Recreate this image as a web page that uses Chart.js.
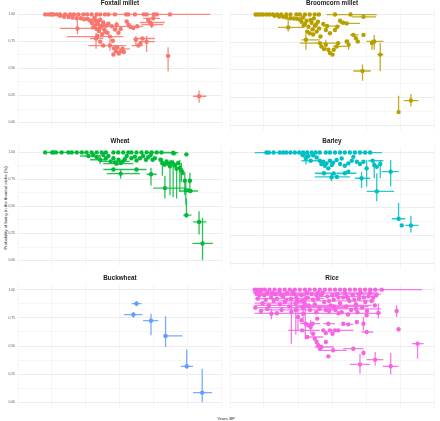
<!DOCTYPE html>
<html><head><meta charset="utf-8">
<script src="https://cdn.jsdelivr.net/npm/chart.js@4.4.1/dist/chart.umd.min.js"></script>
<style>
html,body{margin:0;padding:0;background:#fff;}
#wrap{position:relative;width:440px;height:421px;overflow:hidden;background:#fff;}
canvas{position:absolute;}
.lab{position:absolute;font-family:"Liberation Sans",Arial,sans-serif;font-size:8.6px;color:#222;white-space:nowrap;}
</style></head>
<body><div id="wrap">
<div class="lab" id="ylab" style="left:4.5px;top:208px;transform:translate(-50%,-50%) rotate(-90deg) scale(0.5);">Probability of being in the thermal niche (%)</div>
<div class="lab" id="xlab" style="left:226px;top:418px;transform:translate(-50%,-50%) scale(0.5);">Years BP</div>
</div>
<script>
// Each row: [yearsBP, probability, xLow, xHigh, yLow, yHigh] (bars optional)
const foxtail = [
 [5420,1],[5320,1],[5240,1],[5160,1],[5050,1],[4950,1],[4790,1],[4630,1],[4510,1],[4370,1],[4210,1],[4090,1],[3950,1],[3790,1],[3680,1],[3530,1],[3420,1],
 [5200,1,4100,5470],[3210,1,2860,3560],[2860,1],[2790,1],[2580,1,2100,3000],[2300,1],[2210,1],[1980,1,1600,2400],[1890,1],[1470,1,190,2210],
 [4950,0.988],[4820,0.979],[4680,0.976],[4550,0.970],[4420,0.964],[4290,0.964],[4190,0.955],[4080,0.958],
 [4400,0.87,3680,4950,0.816,0.97],
 [4000,0.944],[3940,0.920],[3870,0.955],[3850,0.896],[3810,0.932],[3790,0.866],[3750,0.911],[3720,0.846],[3680,0.950],[3660,0.890],[3620,0.816],[3580,0.926],[3550,0.861],[3490,0.896],[3450,0.831],
 [3900,0.88],[3770,0.80],[3700,0.87],[3600,0.90],[3520,0.84],[3750,0.94],[3850,0.97],
 [3810,0.777,3580,4000,0.682,0.831],[3680,0.748],[3580,0.712,2860,4050],[3370,0.795,2950,4740],
 [3420,0.914],[3310,0.890,2730,3490],[3210,0.861],[3160,0.905,null,null,0.861,0.935],[3100,0.831],[3030,0.866],[3280,0.757],[3370,0.712,null,null,0.665,0.772],[3240,0.688],[3180,0.659],[3140,0.697],[3090,0.638],[3260,0.629],[3030,0.659],[2970,0.682,2740,3110],[2930,0.653],
 [2840,0.935],[2780,0.905],[2720,0.884,2420,2840],[2630,0.875],[2510,0.890,2320,2740],[2550,0.766,null,null,0.712,0.801],[2470,0.712,2320,2690],[2400,0.736],[2340,0.777,1950,2630],[2210,0.748,1950,2420,0.653,0.801],
 [2050,0.905,1680,2370,0.875,0.935],[2160,0.950],[2100,0.925,1630,2420],[2000,0.964,1790,2320],
 [1530,0.617,1460,1580,0.475,0.697],[550,0.243,320,740,0.184,0.297]
];
const broomcorn = [
 [5470,1],[5400,1],[5320,1],[5240,1],[5130,1],[5030,1],[4920,1],[4790,1],[4660,1],[4500,1],[4370,1],[4180,1],[4070,1],[3910,1],[3760,1],[3600,1],[3470,1],
 [2960,1,2640,3220],[2470,1,1640,2850],[2060,0.979,1660,2430,0.964,1.0],
 [4870,0.988],[4730,0.982],[4600,0.979],[4500,0.973],[4370,0.967],[4260,0.964],[4160,0.961],
 [4440,0.884,3970,4760,0.846,0.967],
 [4070,0.955],[4020,0.935],[3970,0.973],[3910,0.914],[3860,0.944],[3840,0.846],[3800,0.890],[3760,0.831],[3700,0.926],[3670,0.866],[3630,0.964],[3600,0.896],[3540,0.846],[3500,0.935],[3460,0.875],[3420,0.801],
 [3950,0.90],[3730,0.95],[3650,0.82],[3560,0.91],
 [3880,0.772,3440,4020,0.682,0.831],
 [3330,0.914],[3250,0.861],[3210,0.896,2800,3330],[3120,0.831],[2960,0.861],[2890,0.890],
 [3440,0.742,2800,4070],[3390,0.712],[3310,0.688],[3250,0.727,null,null,0.682,0.772],[3170,0.682],[3120,0.653],[3040,0.638],[3000,0.682],[2910,0.712,2590,3020],[2860,0.742],
 [2800,0.944],[2700,0.926],[2590,0.920,2170,2800],[2590,0.757],[2530,0.727,null,null,0.682,0.772],[2380,0.816,2220,2490],[2300,0.786],[2240,0.757],[2060,0.816],
 [1720,0.757,1430,1960,0.682,0.816],[1790,0.742,null,null,0.682,0.772],[1530,0.638,1430,1620,0.490,0.742],[2090,0.490,1830,2380,0.401,0.549],
 [950,0.119,null,null,0.105,0.267],[560,0.223,320,790,0.172,0.282]
];
const wheat = [
 [5420,1],[5200,1,4100,5470],[5160,1],[5080,1],[4900,1],[4690,1],[4580,1],[4420,1],[4260,1],[4110,1],[3950,1],[3790,1],[3630,1],[3500,1],[3260,1],[3110,1],[2950,1],[2790,1],[2690,1],[2530,1],[2370,1],[2210,1],[2050,1],[1890,1],[1740,1,1470,2200],[1370,0.997,1210,1690],
 [4050,0.967,3680,4320],[3900,0.976],[3790,0.955],[3680,0.932,3470,4000,0.893,0.976],[3580,0.976],[3500,0.946],[3420,0.967],[3350,0.917,2740,3680],[3260,0.946],[3210,0.908],[3160,0.896,2630,3580],[3100,0.932],[3030,0.902],[2970,0.917],[2900,0.938],[2840,0.967],[2690,0.946],[2580,0.961],[2530,0.926],[2420,0.946],[2320,0.967],[2230,0.932],[2160,0.955],[2080,0.976],[2020,0.932],[1950,0.946],
 [3260,0.842,2840,3580],[3030,0.804,2420,3470,0.759,0.842],[2530,0.842,2210,2840],[2070,0.798,1890,2210,0.693,0.857],[1630,0.670,950,2000,0.574,0.783],
 [1770,0.932],[1710,0.902,null,null,0.783,0.946],[1640,0.887],[1580,0.917],[1530,0.896,1160,1790],[1470,0.872,null,null,0.604,0.932],[1420,0.908],[1370,0.896,null,null,0.586,0.932],[1320,0.878],[1260,0.848,null,null,0.574,0.902],[1210,0.902],[1160,0.857,null,null,0.634,0.932],[1110,0.836,null,null,0.723,0.902],[1070,0.812],[1350,0.991],[950,0.982],
 [1000,0.738,null,null,0.604,0.812],[840,0.738,null,null,0.634,0.812],[970,0.649,null,null,0.515,0.723],[890,0.649],[820,0.643,580,1160],
 [950,0.420,790,1050,0.396,0.574],[550,0.357,320,740,0.241,0.455],[440,0.158,110,760,0.003,0.396]
];
const barley = [
 [5130,1],[5050,1],[4900,1,3800,5500],[4710,1],[4600,1],[4500,1],[4370,1],[4230,1],[4090,1],[3970,1],[3840,1],[3700,1],[3570,1],[3440,1],[3250,1],[3120,1],[2960,1],[2800,1],[2650,1],[2490,1],[2330,1],[2170,1],[2010,1],[1850,1,1480,2200],
 [3970,0.976,3590,4070],[3880,0.946,null,null,0.893,0.991],[3810,0.967],[3730,0.926,3440,4020],[3650,0.976],[3540,0.955],[3440,0.926],[3390,0.896],[3330,0.917],[3280,0.881],[3230,0.902],[3170,0.857],[3120,0.926],[3060,0.887],[3020,0.908],[2910,0.932],[2800,0.896],[2750,0.946],[2650,0.881],[2540,0.902],[2430,0.926],[2380,0.961],[2270,0.917],[2170,0.896],[2060,0.917],
 [1960,0.857,null,null,0.693,0.932],[1770,0.926,1430,1910],[1720,0.887,null,null,0.768,0.917],[1640,0.872],[1530,0.896,null,null,0.768,0.932],
 [3000,0.81,2580,3550],[2900,0.78,2490,3600],
 [3310,0.813,2990,3600],[3070,0.777,null,null,0.741,0.813],[2650,0.813,2280,2910],[2540,0.827],[2120,0.768,1850,2330,0.679,0.827],[1640,0.649,1090,1960,0.560,0.813],[1200,0.827,950,1480,0.693,0.932],
 [950,0.402,740,1160,0.381,0.545],[850,0.342],[560,0.342,320,740,0.277,0.426]
];
const buckwheat = [
 [2530,0.876,2370,2680,0.852,0.899],
 [2630,0.778,2340,2930,0.751,0.802],
 [2070,0.725,1840,2320,0.595,0.787],
 [1610,0.589,1070,1680,0.491,0.763],
 [940,0.320,740,1130,0.299,0.470],
 [450,0.086,140,740,0.0,0.299]
];
const rice = [
 [5500,1],[5400,1],[5290,1],[5180,1],[5030,1],[4870,1],[4710,1],[4550,1],[4390,1],[4230,1],[4070,1],[3910,1],[3760,1],[3600,1],[3440,1],[3280,1],[3120,1],[2960,1],[2800,1],[2650,1],[2490,1],[2330,1],[2170,1],[2010,1],[1850,1],[1690,1],[1480,1,210,1800],
 [5450,0.97,4200,5550],[5320,0.985],[5200,0.95,3900,5500],[5100,0.975],[4980,0.93],[4850,0.96,3600,5450],[4720,0.985],[4600,0.94],[4480,0.97],[4350,0.92,3300,5500],[4250,0.96],[4130,0.9],[4020,0.95],[3920,0.88],[3820,0.93],[3700,0.96],[3600,0.87],[3500,0.92],[3400,0.95],[3300,0.89],[3200,0.94],[3100,0.86],[3000,0.91],[2900,0.96],[2800,0.88],[2700,0.93],[2600,0.85],[2500,0.9],[2400,0.95],[2300,0.87],[2200,0.92],[2100,0.84],[2000,0.89],[1900,0.94],[1800,0.9],[1700,0.86],
 [5400,0.92],[5250,0.88,4000,5500],[5050,0.86],[4900,0.9],[4700,0.87],[4550,0.89],[4400,0.85],[3980,0.84],[3750,0.82],[3450,0.83],[3250,0.82],[2950,0.82],[2750,0.8],[2450,0.82],[2250,0.8],[1950,0.81],
 [5350,0.95],[5150,0.91],[4950,0.97],[4800,0.92],[4650,0.95],[4500,0.91],[4300,0.98],[4180,0.93],[3850,0.97],[3650,0.91],[3550,0.95],[3350,0.97],[3150,0.9],[3050,0.95],[2850,0.93],[2650,0.97],[2550,0.92],[2350,0.91],[2150,0.97],[2050,0.93],[1850,0.97],[1750,0.93],[1650,0.95],
 [5480,0.84,2600,5550],[5300,0.81],[5100,0.83],[4650,0.82],[3550,0.8],[3150,0.81],[2850,0.79],[2550,0.78],
 [4800,0.79,1500,5500],[4000,0.9,1700,4800],[3500,0.97,1600,5200],[3000,0.85,1900,4200],[2600,0.94,1650,3500],[2200,0.96,1500,3000],[4200,0.82,3000,5300],[3800,0.86,1800,5500],[2300,0.83,1500,3300],
 [4340,0.802,null,null,0.521,0.905],[4130,0.757,null,null,0.639,0.846],[4020,0.728],[3970,0.787,null,null,0.698,0.876],[4200,0.88,null,null,0.6,0.95],[3900,0.92,null,null,0.56,0.98],
 [4970,0.787,null,null,0.737,0.831],[4000,0.639,3440,4440],
 [3880,0.698,3440,4070],[3810,0.683],[3730,0.669,null,null,0.609,0.728],[3670,0.698],[3840,0.580,3330,3860],[3650,0.609],[3600,0.565],[3540,0.536],[3490,0.506],[3440,0.476],[3390,0.491,2990,3600],[3520,0.743],[3330,0.639],[3250,0.615],[3170,0.698,2960,3330],[3120,0.639],[3040,0.609],[2960,0.639,2380,3120],[3250,0.536],[3020,0.462,2590,3440],[3170,0.408],[2860,0.639],[2700,0.698],[2540,0.692,2380,2700],[2270,0.713],[2060,0.698,null,null,0.639,0.757],[1960,0.624,1750,2120],[1960,0.772],[1590,0.793,null,null,0.743,0.876],
 [2380,0.476,2060,2700],[2060,0.438,null,null,0.417,0.462],[1690,0.379,1430,1960,0.328,0.447],[2170,0.337,1850,2490,0.254,0.432],[1200,0.320,950,1450,0.249,0.438],
 [1010,0.811,null,null,0.757,0.861],[950,0.648],[350,0.521,160,530,0.388,0.536]
];
const cropNames = ['Foxtail millet','Broomcorn millet','Wheat','Barley','Buckwheat','Rice'];
const cropData = [foxtail, broomcorn, wheat, barley, buckwheat, rice];
const xTickLabels = [0, 2000, 4000, 6000];
const yTickLabels = [0, 0.25, 0.5, 0.75, 1];

const cropColors = ['#F8766D','#B79F00','#00BA38','#00BFC4','#619CFF','#F564E3'];
function rgba(hex,a){const n=parseInt(hex.slice(1),16);return `rgba(${n>>16&255},${n>>8&255},${n&255},${a})`;}
const FONT = '"Liberation Sans", Arial, sans-serif';
const wrap = document.getElementById('wrap');

cropNames.forEach((name, i) => {
  const col = i % 2, row = Math.floor(i / 2);
  const rows = cropData[i];
  const pts = rows.map(r => ({x: r[0], y: r[1]}));
  const hb = [], vb = [];
  rows.forEach(r => {
    if (r[2] != null && r[3] != null) hb.push({x: r[2], y: r[1]}, {x: r[3], y: r[1]}, {x: r[3], y: null});
    if (r[4] != null && r[5] != null) vb.push({x: r[0], y: r[4]}, {x: r[0], y: r[5]}, {x: r[0], y: null});
  });
  const bottom = row === 2;
  const cv = document.createElement('canvas');
  const W = col === 0 ? 224 : 216;
  const H = bottom ? 146 : 133;
  cv.width = W; cv.height = H;
  cv.style.left = (col === 0 ? 0 : 224) + 'px';
  cv.style.top = [0, 138, 275][row] + 'px';
  wrap.appendChild(cv);
  const c = cropColors[i];
  const gridColor = '#e9e9e9';
  new Chart(cv, {
    type: 'scatter',
    data: {datasets: [
      {data: pts, pointRadius: 2.2, pointHoverRadius: 2.2, backgroundColor: c, borderWidth: 0},
      {data: hb, showLine: true, spanGaps: false, pointRadius: 0, borderColor: rgba(c, 0.85), borderWidth: 1.3},
      {data: vb, showLine: true, spanGaps: false, pointRadius: 0, borderColor: rgba(c, 0.85), borderWidth: 1.3}
    ]},
    options: {
      responsive: false, animation: false, devicePixelRatio: 1,
      layout: {padding: {left: 0, right: col === 0 ? 2 : 6, top: 0, bottom: 0}},
      plugins: {
        legend: {display: false}, tooltip: {enabled: false},
        title: {display: true, text: name, fullSize: false, color: '#1a1a1a',
          font: {family: FONT, size: 6.3, weight: 'bold', lineHeight: 1}, padding: {top: 0.3, bottom: 2.4}}
      },
      scales: {
        x: {type: 'linear', reverse: true, min: -170, max: 6280,
          ticks: {stepSize: 1000, includeBounds: false, display: bottom, maxRotation: 0, autoSkip: false, padding: 1.2,
            color: '#555', font: {family: FONT, size: 3.4},
            callback: v => xTickLabels.includes(v) ? String(v) : ''},
          grid: {drawTicks: false, color: gridColor,
            lineWidth: ctx => (ctx.tick && xTickLabels.includes(ctx.tick.value)) ? 0.8 : 0.4},
          border: {display: false},
          afterFit: s => { s.height = bottom ? 13 : 0; }
        },
        y: {min: -0.05, max: 1.05,
          ticks: {stepSize: 0.125, includeBounds: false, display: col === 0, padding: 3,
            color: '#555', font: {family: FONT, size: 3.4},
            callback: v => yTickLabels.includes(v) ? v.toFixed(2) : ''},
          grid: {drawTicks: false, color: gridColor,
            lineWidth: ctx => (ctx.tick && yTickLabels.includes(ctx.tick.value)) ? 0.8 : 0.4},
          border: {display: false},
          afterFit: s => { s.width = col === 0 ? 18 : 6; }
        }
      }
    }
  });
});
</script>
</body></html>
